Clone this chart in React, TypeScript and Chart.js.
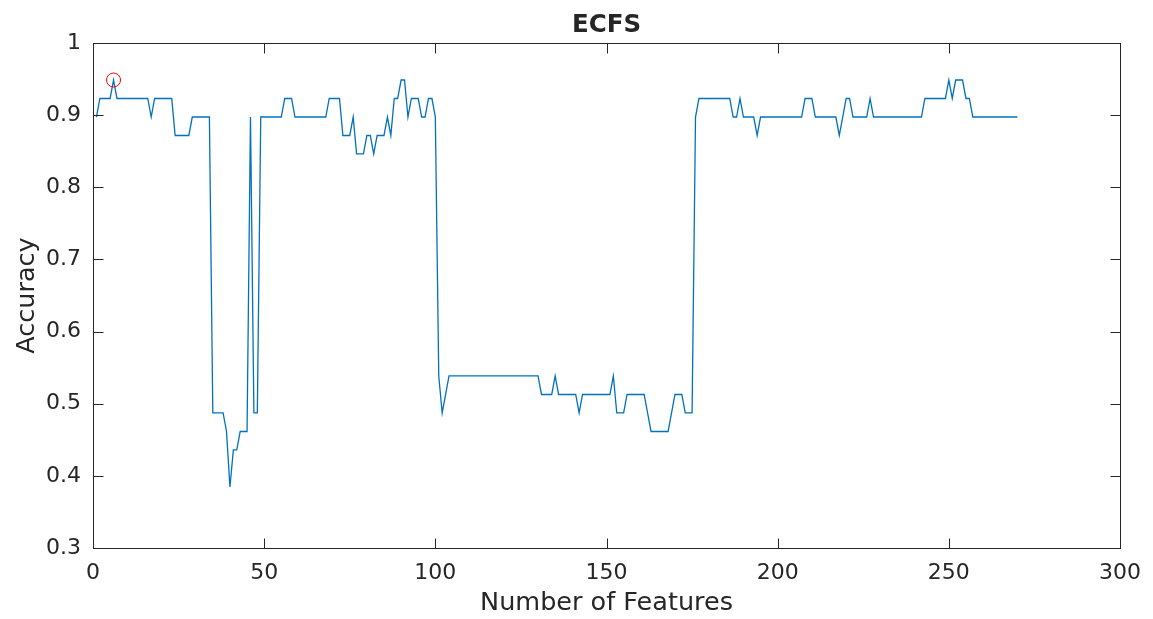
import React, { useEffect, useRef } from "react";
import { Chart, registerables } from "chart.js";

Chart.register(...registerables);

const chartTitle = "ECFS";
const xAxisTitle = "Number of Features";
const yAxisTitle = "Accuracy";
const xTickValues = [0, 50, 100, 150, 200, 250, 300];
const yTickValues = [0.3, 0.4, 0.5, 0.6, 0.7, 0.8, 0.9, 1];
const yTickLabels = ["0.3", "0.4", "0.5", "0.6", "0.7", "0.8", "0.9", "1"];

// accuracy for 1..270 selected features
const accuracy = [
  0.8974, 0.9231, 0.9231, 0.9231, 0.9231, 0.9487, 0.9231, 0.9231, 0.9231, 0.9231,
  0.9231, 0.9231, 0.9231, 0.9231, 0.9231, 0.9231, 0.8974, 0.9231, 0.9231, 0.9231,
  0.9231, 0.9231, 0.9231, 0.8718, 0.8718, 0.8718, 0.8718, 0.8718, 0.8974, 0.8974,
  0.8974, 0.8974, 0.8974, 0.8974, 0.4872, 0.4872, 0.4872, 0.4872, 0.4615, 0.3846,
  0.4359, 0.4359, 0.4615, 0.4615, 0.4615, 0.8974, 0.4872, 0.4872, 0.8974, 0.8974,
  0.8974, 0.8974, 0.8974, 0.8974, 0.8974, 0.9231, 0.9231, 0.9231, 0.8974, 0.8974,
  0.8974, 0.8974, 0.8974, 0.8974, 0.8974, 0.8974, 0.8974, 0.8974, 0.9231, 0.9231,
  0.9231, 0.9231, 0.8718, 0.8718, 0.8718, 0.8974, 0.8462, 0.8462, 0.8462, 0.8718,
  0.8718, 0.8462, 0.8718, 0.8718, 0.8718, 0.8974, 0.8718, 0.9231, 0.9231, 0.9487,
  0.9487, 0.8974, 0.9231, 0.9231, 0.9231, 0.8974, 0.8974, 0.9231, 0.9231, 0.8974,
  0.5385, 0.4872, 0.5128, 0.5385, 0.5385, 0.5385, 0.5385, 0.5385, 0.5385, 0.5385,
  0.5385, 0.5385, 0.5385, 0.5385, 0.5385, 0.5385, 0.5385, 0.5385, 0.5385, 0.5385,
  0.5385, 0.5385, 0.5385, 0.5385, 0.5385, 0.5385, 0.5385, 0.5385, 0.5385, 0.5385,
  0.5128, 0.5128, 0.5128, 0.5128, 0.5385, 0.5128, 0.5128, 0.5128, 0.5128, 0.5128,
  0.5128, 0.4872, 0.5128, 0.5128, 0.5128, 0.5128, 0.5128, 0.5128, 0.5128, 0.5128,
  0.5128, 0.5385, 0.4872, 0.4872, 0.4872, 0.5128, 0.5128, 0.5128, 0.5128, 0.5128,
  0.5128, 0.4872, 0.4615, 0.4615, 0.4615, 0.4615, 0.4615, 0.4615, 0.4872, 0.5128,
  0.5128, 0.5128, 0.4872, 0.4872, 0.4872, 0.8974, 0.9231, 0.9231, 0.9231, 0.9231,
  0.9231, 0.9231, 0.9231, 0.9231, 0.9231, 0.9231, 0.8974, 0.8974, 0.9231, 0.8974,
  0.8974, 0.8974, 0.8974, 0.8718, 0.8974, 0.8974, 0.8974, 0.8974, 0.8974, 0.8974,
  0.8974, 0.8974, 0.8974, 0.8974, 0.8974, 0.8974, 0.8974, 0.9231, 0.9231, 0.9231,
  0.8974, 0.8974, 0.8974, 0.8974, 0.8974, 0.8974, 0.8974, 0.8718, 0.8974, 0.9231,
  0.9231, 0.8974, 0.8974, 0.8974, 0.8974, 0.8974, 0.9231, 0.8974, 0.8974, 0.8974,
  0.8974, 0.8974, 0.8974, 0.8974, 0.8974, 0.8974, 0.8974, 0.8974, 0.8974, 0.8974,
  0.8974, 0.8974, 0.9231, 0.9231, 0.9231, 0.9231, 0.9231, 0.9231, 0.9231, 0.9487,
  0.9231, 0.9487, 0.9487, 0.9487, 0.9231, 0.9231, 0.8974, 0.8974, 0.8974, 0.8974,
  0.8974, 0.8974, 0.8974, 0.8974, 0.8974, 0.8974, 0.8974, 0.8974, 0.8974, 0.8974,
];

const bestFeatureCount = [6];
const bestAccuracy = [0.9487];

const W = 1153;
const H = 619;
const AXIS_COLOR = "#262626";
const FONT = "'DejaVu Sans', sans-serif";

const boxPlugin = {
  id: "matlabBox",
  afterDraw(chart: any) {
    const { ctx, chartArea: a, scales } = chart;
    ctx.save();
    ctx.strokeStyle = AXIS_COLOR;
    ctx.lineWidth = 1;
    const L = Math.round(a.left) + 0.5;
    const R = Math.round(a.right) + 0.5;
    const T = Math.round(a.top) + 0.5;
    const B = Math.round(a.bottom) + 0.5;
    ctx.strokeRect(L, T, R - L, B - T);
    const tl = 10;
    ctx.beginPath();
    xTickValues.forEach((v) => {
      const px = Math.round(scales.x.getPixelForValue(v)) + 0.5;
      ctx.moveTo(px, B);
      ctx.lineTo(px, B - tl);
      ctx.moveTo(px, T);
      ctx.lineTo(px, T + tl);
    });
    yTickValues.forEach((v) => {
      const py = Math.round(scales.y.getPixelForValue(v)) + 0.5;
      ctx.moveTo(L, py);
      ctx.lineTo(L + tl, py);
      ctx.moveTo(R, py);
      ctx.lineTo(R - tl, py);
    });
    ctx.stroke();
    ctx.restore();
  },
};

export default function App() {
  const canvasRef = useRef<HTMLCanvasElement | null>(null);

  useEffect(() => {
    if (!canvasRef.current) return;
    const chart = new Chart(canvasRef.current, {
      type: "line",
      data: {
        datasets: [
          {
            label: "Accuracy",
            data: accuracy.map((y, i) => ({ x: i + 1, y })),
            borderColor: "#0072BD",
            borderWidth: 1.3,
            pointRadius: 0,
            tension: 0,
            fill: false,
            order: 2,
          },
          {
            type: "scatter",
            label: "Best",
            data: bestFeatureCount.map((x, i) => ({ x, y: bestAccuracy[i] })),
            borderColor: "#FF0000",
            backgroundColor: "rgba(0,0,0,0)",
            pointRadius: 7,
            borderWidth: 1,
            pointStyle: "circle",
            showLine: false,
            order: 1,
          } as any,
        ],
      },
      options: {
        responsive: false,
        animation: false,
        layout: { padding: { left: 0, right: 32, top: 0, bottom: 0 } },
        plugins: {
          legend: { display: false },
          tooltip: { enabled: false },
          title: {
            display: true,
            text: chartTitle,
            fullSize: false,
            color: AXIS_COLOR,
            font: { family: FONT, size: 24.5, weight: "bold", lineHeight: 1.2 },
            padding: { top: 11, bottom: 2.6 },
          },
        },
        scales: {
          x: {
            type: "linear",
            min: 0,
            max: 300,
            afterBuildTicks: (s: any) => {
              s.ticks = xTickValues.map((v) => ({ value: v }));
            },
            ticks: {
              color: AXIS_COLOR,
              font: { family: FONT, size: 22 },
              padding: 12,
              maxRotation: 0,
              autoSkip: false,
              callback: (v: any) => String(v),
            },
            grid: { display: false, drawTicks: false },
            border: { display: false },
            title: {
              display: true,
              text: xAxisTitle,
              color: AXIS_COLOR,
              font: { family: FONT, size: 25.5, lineHeight: 1.2 },
              padding: { top: 0, bottom: 0.5 },
            },
            afterFit: (s: any) => {
              s.height = 71;
            },
          },
          y: {
            type: "linear",
            min: 0.3,
            max: 1,
            afterBuildTicks: (s: any) => {
              s.ticks = yTickValues.map((v) => ({ value: v }));
            },
            ticks: {
              color: AXIS_COLOR,
              font: { family: FONT, size: 22 },
              padding: 12,
              autoSkip: false,
              callback: (v: any) => {
                const idx = yTickValues.findIndex((t) => Math.abs(t - v) < 1e-9);
                return idx >= 0 ? yTickLabels[idx] : "";
              },
            },
            grid: { display: false, drawTicks: false },
            border: { display: false },
            title: {
              display: true,
              text: yAxisTitle,
              color: AXIS_COLOR,
              font: { family: FONT, size: 25.5, lineHeight: 1.2 },
              padding: { top: 12, bottom: 0 },
            },
            afterFit: (s: any) => {
              s.width = 93;
            },
          },
        },
      },
      plugins: [boxPlugin],
    });
    return () => chart.destroy();
  }, []);

  return (
    <div style={{ position: "absolute", left: 0, top: 0, width: W, height: H, background: "#fff" }}>
      <canvas ref={canvasRef} width={W} height={H} style={{ display: "block" }} />
    </div>
  );
}
